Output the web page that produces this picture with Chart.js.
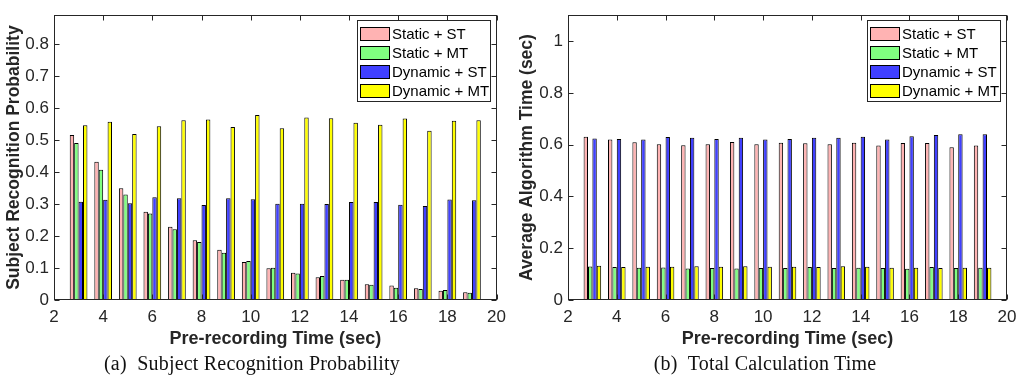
<!DOCTYPE html>
<html>
<head>
<meta charset="utf-8">
<script src="https://cdn.jsdelivr.net/npm/chart.js@4.4.1/dist/chart.umd.min.js"></script>
<style>
body { margin: 0; background: #fff; width: 1026px; height: 387px; overflow: hidden; position: relative; }
canvas { position: absolute; top: 0; }
#chartA { left: 0; }
#chartB { left: 513px; }
.cap { position: absolute; top: 352px; transform: translateX(-50%); font-family: "Liberation Serif", serif; font-size: 20px; letter-spacing: 0.2px; color: #111; white-space: nowrap; }
</style>
</head>
<body>
<canvas id="chartA" width="513" height="360"></canvas>
<canvas id="chartB" width="513" height="360"></canvas>
<div class="cap" style="left:252px">(a)&nbsp; Subject Recognition Probability</div>
<div class="cap" style="left:765px">(b)&nbsp; Total Calculation Time</div>
<script>
// pre-recording time (sec)
var preTime = [3, 4, 5, 6, 7, 8, 9, 10, 11, 12, 13, 14, 15, 16, 17, 18, 19];
var seriesNames = ['Static + ST', 'Static + MT', 'Dynamic + ST', 'Dynamic + MT'];
var seriesColors = ['rgb(255,179,179)', 'rgb(128,255,128)', 'rgb(64,64,255)', 'rgb(255,255,0)'];

// (a) subject recognition probability
var probStaticST  = [0.516, 0.432, 0.349, 0.276, 0.229, 0.187, 0.157, 0.119, 0.099, 0.085, 0.071, 0.063, 0.049, 0.045, 0.037, 0.029, 0.024];
var probStaticMT  = [0.491, 0.407, 0.330, 0.270, 0.221, 0.181, 0.148, 0.122, 0.101, 0.083, 0.075, 0.063, 0.048, 0.038, 0.034, 0.031, 0.023];
var probDynamicST = [0.307, 0.313, 0.302, 0.321, 0.318, 0.297, 0.318, 0.315, 0.301, 0.301, 0.300, 0.306, 0.306, 0.298, 0.294, 0.314, 0.312];
var probDynamicMT = [0.546, 0.557, 0.519, 0.543, 0.562, 0.564, 0.541, 0.578, 0.537, 0.570, 0.568, 0.554, 0.548, 0.567, 0.529, 0.560, 0.562];

// (b) average algorithm time (sec)
var timeStaticST  = [0.631, 0.620, 0.609, 0.602, 0.598, 0.602, 0.610, 0.602, 0.607, 0.605, 0.602, 0.607, 0.597, 0.606, 0.606, 0.590, 0.597];
var timeStaticMT  = [0.129, 0.127, 0.125, 0.126, 0.122, 0.124, 0.122, 0.124, 0.124, 0.127, 0.124, 0.125, 0.124, 0.121, 0.127, 0.124, 0.125];
var timeDynamicST = [0.624, 0.622, 0.620, 0.630, 0.627, 0.622, 0.627, 0.620, 0.622, 0.627, 0.627, 0.631, 0.620, 0.632, 0.637, 0.640, 0.640];
var timeDynamicMT = [0.132, 0.127, 0.128, 0.128, 0.130, 0.128, 0.130, 0.128, 0.128, 0.127, 0.130, 0.128, 0.125, 0.125, 0.124, 0.125, 0.125];

var xTicks = [2, 4, 6, 8, 10, 12, 14, 16, 18, 20];
var yTicksProb = [0, 0.1, 0.2, 0.3, 0.4, 0.5, 0.6, 0.7, 0.8];
var yTicksTime = [0, 0.2, 0.4, 0.6, 0.8, 1];

Chart.defaults.font.family = '"Liberation Sans", Arial, sans-serif';
Chart.defaults.font.size = 17;
Chart.defaults.color = '#262626';

// matlab-like box, inward ticks and legend
var boxPlugin = {
  id: 'matlabBox',
  afterDraw: function(chart) {
    var a = chart.chartArea, ctx = chart.ctx;
    var xs = chart.scales.x, ys = chart.scales.y;
    ctx.save();
    ctx.strokeStyle = '#262626';
    ctx.lineWidth = 1;
    var L = Math.round(a.left) + 0.5, R = Math.round(a.right) - 0.5;
    var T = Math.round(a.top) + 0.5, B = Math.round(a.bottom) - 0.5;
    ctx.strokeRect(L, T, R - L, B - T);
    ctx.beginPath();
    xs.ticks.forEach(function(t) {
      var px = Math.round(xs.getPixelForValue(t.value)) + 0.5;
      ctx.moveTo(px, B); ctx.lineTo(px, B - 5);
      ctx.moveTo(px, T); ctx.lineTo(px, T + 5);
    });
    ys.ticks.forEach(function(t) {
      var py = Math.round(ys.getPixelForValue(t.value)) + 0.5;
      ctx.moveTo(L, py); ctx.lineTo(L + 5, py);
      ctx.moveTo(R, py); ctx.lineTo(R - 5, py);
    });
    ctx.stroke();

    var w = 133, h = 81;
    var lx = Math.round(a.right) - 7 - w, ly = Math.round(a.top) + 5;
    ctx.fillStyle = '#fff';
    ctx.fillRect(lx, ly, w, h);
    ctx.strokeRect(lx + 0.5, ly + 0.5, w, h);
    ctx.font = '15px "Liberation Sans", Arial, sans-serif';
    ctx.textBaseline = 'middle';
    chart.data.datasets.forEach(function(ds, i) {
      var ry = Math.round(ly + 7 + i * 19.1);
      ctx.fillStyle = ds.backgroundColor;
      ctx.fillRect(lx + 3, ry, 30, 14);
      ctx.strokeStyle = '#000';
      ctx.strokeRect(lx + 3.5, ry + 0.5, 29, 13);
      ctx.fillStyle = '#000';
      ctx.fillText(ds.label, lx + 35, ry + 7.5);
    });
    ctx.restore();
  }
};

function makeSets(values) {
  return values.map(function(arr, k) {
    return {
      label: seriesNames[k],
      data: preTime.map(function(x, i) { return { x: x, y: arr[i] }; }),
      backgroundColor: seriesColors[k],
      borderColor: '#000',
      borderWidth: 1,
      categoryPercentage: 0.72,
      barPercentage: 1
    };
  });
}

function makeChart(id, sets, yMax, yTicks, yTitle, padRight, yWidth) {
  var ctx = document.getElementById(id).getContext('2d');
  return new Chart(ctx, {
    type: 'bar',
    data: { datasets: sets },
    options: {
      responsive: false,
      animation: false,
      layout: { padding: { top: 7, right: padRight, left: 0, bottom: 0 } },
      plugins: { legend: { display: false }, tooltip: { enabled: false } },
      scales: {
        x: {
          type: 'linear',
          min: 2, max: 20,
          offset: false,
          grid: { display: false, drawTicks: false, offset: false },
          border: { display: false },
          afterBuildTicks: function(s) { s.ticks = xTicks.map(function(v) { return { value: v }; }); },
          afterFit: function(s) { s.height = 60; },
          ticks: { padding: 7, maxRotation: 0 },
          title: { display: true, text: 'Pre-recording Time (sec)', font: { weight: 'bold', size: 18 }, padding: { top: 0, bottom: 10 } }
        },
        y: {
          min: 0, max: yMax,
          grid: { display: false, drawTicks: false },
          border: { display: false },
          afterBuildTicks: function(s) { s.ticks = yTicks.map(function(v) { return { value: v }; }); },
          afterFit: function(s) { s.width = yWidth; },
          ticks: { padding: 5, callback: function(v) { return String(+v.toFixed(2)); } },
          title: { display: true, text: yTitle, font: { weight: 'bold', size: 17.5 }, padding: { top: 4, bottom: 0 } }
        }
      }
    },
    plugins: [boxPlugin]
  });
}

makeChart('chartA', makeSets([probStaticST, probStaticMT, probDynamicST, probDynamicMT]),
  0.89, yTicksProb, 'Subject Recognition Probability', 16, 54);
makeChart('chartB', makeSets([timeStaticST, timeStaticMT, timeDynamicST, timeDynamicMT]),
  1.1, yTicksTime, 'Average Algorithm Time (sec)', 19, 55);
</script>
</body>
</html>
